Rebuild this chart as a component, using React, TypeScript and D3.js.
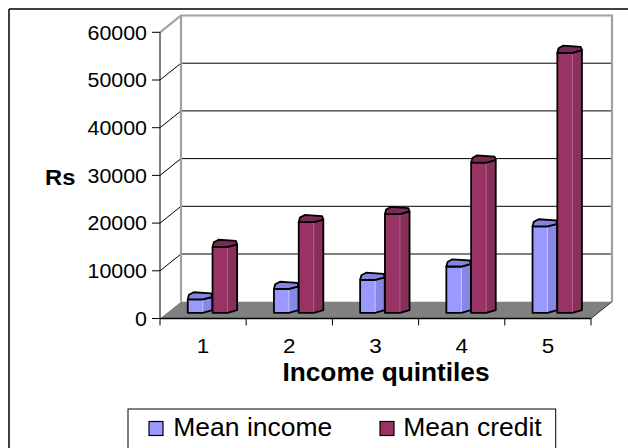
import React from "react";
import * as d3 from "d3";

// Quintile categories and series values (Rs)
const categories = ["1", "2", "3", "4", "5"];
const meanIncome = [2800, 5000, 6900, 9700, 18100];
const meanCredit = [13800, 19000, 20700, 31500, 54500];
const yTicks = [0, 10000, 20000, 30000, 40000, 50000, 60000];
const seriesNames = ["Mean income", "Mean credit"];

const W = 628;
const H = 448;
const FONT = "'Liberation Sans', Arial, sans-serif";

// 3D projection: depth offset from the front plane to the back wall
const DX = 21;
const DY = -16.8;
// bars sit part-way into the depth
const BAR_F = 0.34;

const palette = [
  { front: "#9999ff", side: "#8787e6", top: "#8585e0", line: "#c4c4ff" },
  { front: "#993366", side: "#86305a", top: "#7c2a53", line: "#b75a88" },
];

function Stretched({ x, y, sx, anchor, size, weight, children }: any) {
  return (
    <text
      transform={`translate(${x},${y}) scale(${sx},1)`}
      textAnchor={anchor}
      fontSize={size}
      fontWeight={weight}
      fontFamily={FONT}
      fill="#000"
    >
      {children}
    </text>
  );
}

export default function App() {
  const x = d3.scaleBand().domain(categories).range([160, 591]).paddingInner(0).paddingOuter(0);
  const y = d3.scaleLinear().domain([0, 60000]).range([318.5, 32.3]);

  const x0 = x.range()[0];
  const x1 = x.range()[1];
  const yb = y(0);
  const yTop = y(60000);

  const floor = [
    [x0, yb],
    [x1, yb],
    [x1 + DX, yb + DY],
    [x0 + DX, yb + DY],
  ];

  const bw = 24.6; // total visible bar width
  const fw = 15; // front facet width
  const rise = 2.6;

  function bar(cx: number, v: number, s: number, key: string) {
    const bx = cx + (s === 0 ? -22.5 : 2.3);
    const base = y(0) + DY * BAR_F;
    const top = y(v) + DY * BAR_F;
    const c = palette[s];
    const xr = bx + bw;
    const xm = bx + fw;
    const sidePts = [
      [xm, top],
      [xr, top - rise],
      [xr, base - rise],
      [xm, base],
    ];
    const outline = [
      [bx, top],
      [xm, top],
      [xr, top - rise],
      [xr, base - rise],
      [xm, base],
      [bx, base],
    ];
    const topPts = [
      [bx, top],
      [xm, top],
      [xr, top - rise],
      [xr - 1.2, top - 6],
      [bx + 6, top - 7.2],
      [bx + 1.2, top - 4.6],
    ];
    const line = d3.line();
    return (
      <g key={key}>
        <rect x={bx} y={top} width={fw} height={base - top} fill={c.front} />
        <path d={line(sidePts as any) + "Z"} fill={c.side} />
        <line x1={xm} y1={top} x2={xm} y2={base} stroke={c.line} strokeWidth={1} />
        <path d={line(outline as any) + "Z"} fill="none" stroke="#000" strokeWidth={1.8} strokeLinejoin="round" />
        <path d={line(topPts as any) + "Z"} fill={c.top} stroke="#000" strokeWidth={1.8} strokeLinejoin="round" />
      </g>
    );
  }

  const line = d3.line();

  return (
    <svg
      width={W}
      height={H}
      style={{ position: "absolute", left: 0, top: 0, background: "#fff" }}
    >
      {/* chart frame */}
      <line x1={9} y1={9} x2={W} y2={9} stroke="#000" strokeWidth={1.5} />
      <line x1={9} y1={9} x2={9} y2={H} stroke="#000" strokeWidth={1.5} />

      {/* back-wall gridlines and side-wall diagonals */}
      {yTicks
        .filter((t) => t > 0 && t < 60000)
        .map((t) => (
          <g key={"g" + t}>
            <line x1={x0 + DX} y1={y(t) + DY} x2={x1 + DX} y2={y(t) + DY} stroke="#000" strokeWidth={1} />
            <line x1={x0} y1={y(t)} x2={x0 + DX} y2={y(t) + DY} stroke="#000" strokeWidth={1} />
          </g>
        ))}

      {/* wall frame */}
      <path
        d={
          line([
            [x0, yTop],
            [x0 + DX, yTop + DY],
            [x1 + DX, yTop + DY],
            [x1 + DX, yb + DY],
          ] as any) as string
        }
        fill="none"
        stroke="#a0a0a0"
        strokeWidth={2.2}
      />
      <line x1={x0 + DX} y1={yTop + DY} x2={x0 + DX} y2={yb + DY} stroke="#a0a0a0" strokeWidth={2.2} />

      {/* floor */}
      <path d={line(floor as any) + "Z"} fill="#808080" stroke="none" />
      <line x1={x1} y1={yb} x2={x1 + DX} y2={yb + DY} stroke="#333" strokeWidth={1} />

      {/* bars */}
      {categories.map((cat, i) => {
        const cx = (x(cat) as number) + x.bandwidth() / 2 + DX * BAR_F;
        return (
          <g key={cat}>
            {bar(cx, meanIncome[i], 0, "i" + cat)}
            {bar(cx, meanCredit[i], 1, "c" + cat)}
          </g>
        );
      })}

      {/* value axis */}
      <line x1={x0} y1={yTop} x2={x0} y2={yb} stroke="#000" strokeWidth={1} />
      {yTicks.map((t) => (
        <g key={"t" + t}>
          <line x1={x0 - 8} y1={y(t)} x2={x0} y2={y(t)} stroke="#000" strokeWidth={1} />
          <Stretched x={147} y={y(t) + 7.2} sx={1.07} anchor="end" size={20}>
            {String(t)}
          </Stretched>
        </g>
      ))}

      {/* category axis */}
      <line x1={x0} y1={yb} x2={x1} y2={yb} stroke="#000" strokeWidth={1.5} />
      {[...categories.map((c) => x(c) as number), x1].map((p, i) => (
        <line key={"ct" + i} x1={p} y1={yb} x2={p} y2={yb + 7} stroke="#000" strokeWidth={1} />
      ))}
      {categories.map((c) => (
        <Stretched key={"cl" + c} x={(x(c) as number) + x.bandwidth() / 2} y={352.6} sx={1.07} anchor="middle" size={21}>
          {c}
        </Stretched>
      ))}

      {/* axis titles */}
      <Stretched x={386} y={381} sx={1.03} anchor="middle" size={25.5} weight="bold">
        Income quintiles
      </Stretched>
      <Stretched x={45} y={185} sx={1.08} anchor="start" size={22} weight="bold">
        Rs
      </Stretched>

      {/* legend */}
      <rect x={128} y={409} width={427.7} height={60} fill="#fff" stroke="#000" strokeWidth={1} />
      <rect x={149} y={421.5} width={14} height={14} fill={palette[0].front} stroke="#000" strokeWidth={1.2} />
      <Stretched x={173.3} y={435.6} sx={1.06} anchor="start" size={25}>
        {seriesNames[0]}
      </Stretched>
      <rect x={380} y={421.5} width={14} height={14} fill={palette[1].front} stroke="#000" strokeWidth={1.2} />
      <Stretched x={403.3} y={435.6} sx={1.06} anchor="start" size={25}>
        {seriesNames[1]}
      </Stretched>
    </svg>
  );
}
